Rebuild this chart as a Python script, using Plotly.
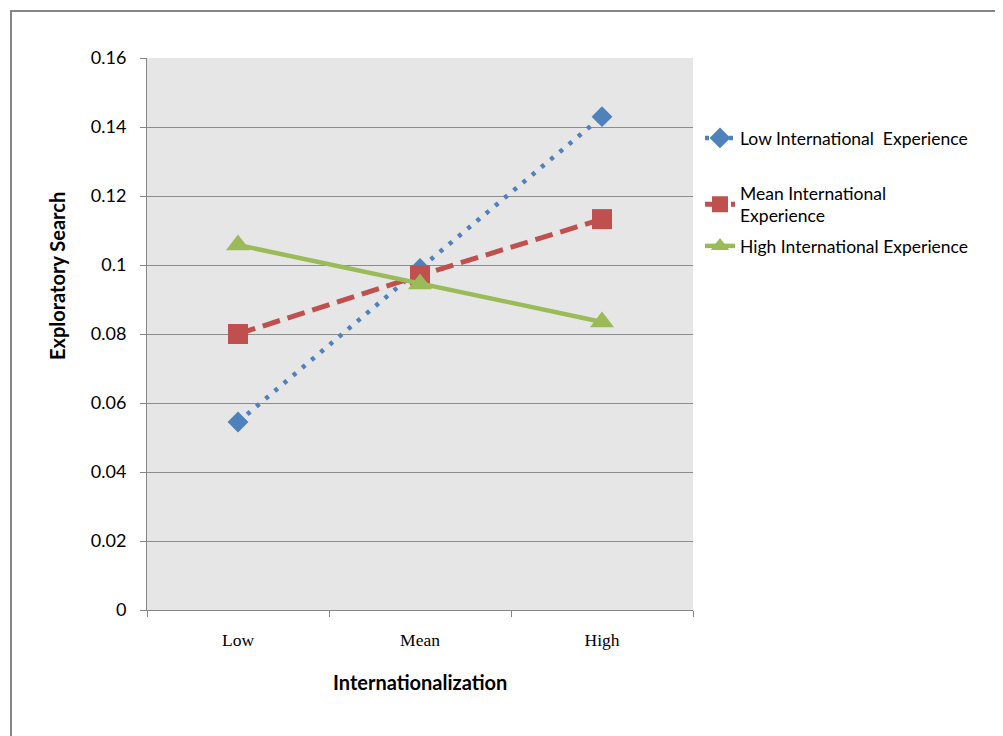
import plotly.graph_objects as go

categories = ["Low", "Mean", "High"]
low_exp = [0.0545, 0.0990, 0.1430]
mean_exp = [0.0800, 0.0970, 0.1133]
high_exp = [0.1058, 0.0945, 0.0835]
y_ticks = [0, 0.02, 0.04, 0.06, 0.08, 0.1, 0.12, 0.14, 0.16]
y_ticktext = ["0", "0.02", "0.04", "0.06", "0.08", "0.1", "0.12", "0.14", "0.16"]

OFF = 8  # page body margin
W, H = 1003, 736
# target plot area on screen
SX0, SX1, SY0, SY1 = 147, 693, 58, 610
L = SX0 - OFF
T = SY0 - OFF
R = W + OFF - SX1
B = H + OFF - SY1
pw, ph = SX1 - SX0, SY1 - SY0


def px_x(x):
    return (x - SX0) / pw


def px_y(y):
    return (SY1 - y) / ph


fig = go.Figure()
fig.add_trace(go.Scatter(
    x=categories, y=low_exp, name="Low International  Experience",
    mode="lines+markers", line=dict(color="#4F81BD", width=4.5, dash="4px,8px"),
    marker=dict(symbol="diamond", size=16, color="#4F81BD"), legend="legend"))
fig.add_trace(go.Scatter(
    x=categories, y=mean_exp, name="Mean International<br>Experience",
    mode="lines+markers", line=dict(color="#C0504D", width=5, dash="18px,8px"),
    marker=dict(symbol="square", size=20, color="#C0504D"), legend="legend2"))
fig.add_trace(go.Scatter(
    x=categories, y=high_exp, name="High International Experience",
    mode="lines+markers", line=dict(color="#9BBB59", width=4.5),
    marker=dict(symbol="triangle-up", size=21, color="#9BBB59"), legend="legend3"))

legend_font = dict(family="Lato, Open Sans, sans-serif", size=17.5, color="#000000")


def leg(y_top):
    return dict(x=px_x(700), y=px_y(y_top), xanchor="left", yanchor="top",
                font=legend_font, bgcolor="rgba(0,0,0,0)", itemwidth=30,
                tracegroupgap=0)


fig.update_layout(
    width=W, height=H,
    margin=dict(l=L, r=R, t=T, b=B, pad=0),
    paper_bgcolor="white", plot_bgcolor="#E6E6E6",
    showlegend=True,
    legend=leg(120),
    legend2=leg(175),
    legend3=leg(228),
    xaxis=dict(type="category", tickson="boundaries", ticks="outside",
               ticklen=6, tickcolor="#868686", showline=True, linecolor="#868686",
               linewidth=1, showgrid=False, zeroline=False,
               tickfont=dict(family="Liberation Serif, serif", size=17.5, color="#000000"),
               ticklabelstandoff=14, range=[-0.5, 2.5]),
    yaxis=dict(range=[0, 0.16], tickvals=y_ticks, ticktext=y_ticktext,
               ticks="outside", ticklen=6, tickcolor="#868686",
               showline=True, linecolor="#868686", linewidth=1,
               showgrid=True, gridcolor="#8C8C8C", gridwidth=1, zeroline=False,
               tickfont=dict(family="Lato, Open Sans, sans-serif", size=18, color="#000000"),
               ticklabelstandoff=10),
    annotations=[
        dict(text="<b>Exploratory Search</b>", xref="paper", yref="paper",
             x=px_x(57), y=px_y(276), textangle=-90, showarrow=False,
             xanchor="center", yanchor="middle",
             font=dict(family="Lato, Open Sans, sans-serif", size=20, color="#000000")),
        dict(text="<b>Internationalization</b>", xref="paper", yref="paper",
             x=px_x(420), y=px_y(682), showarrow=False,
             xanchor="center", yanchor="middle",
             font=dict(family="Lato, Open Sans, sans-serif", size=20, color="#000000")),
    ],
    shapes=[dict(type="rect", xref="paper", yref="paper",
                 x0=px_x(11), x1=px_x(1020), y0=px_y(760), y1=px_y(11),
                 line=dict(color="#868686", width=2), fillcolor="rgba(0,0,0,0)",
                 layer="below")],
)

fig.write_html("out.html")
